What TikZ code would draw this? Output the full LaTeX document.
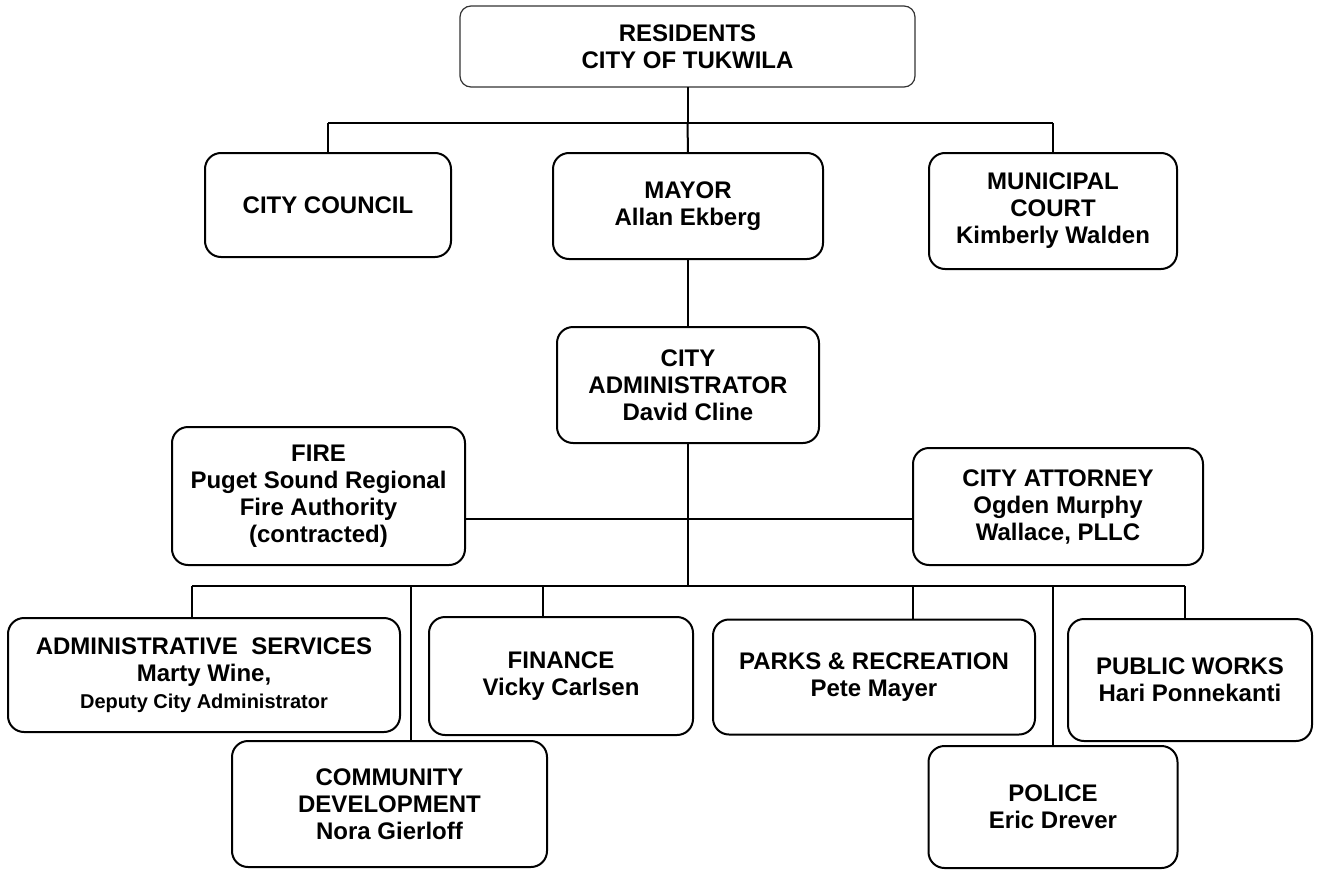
\documentclass[tikz,border=0pt]{standalone}
\usepackage{fontspec}
\setmainfont{Liberation Sans}
\begin{document}
\begin{tikzpicture}[x=1pt,y=-1pt,
  box/.style={draw=black, line width=2pt, rounded corners=16pt, inner sep=0pt, outer sep=0pt,
    align=center, font=\bfseries\fontsize{24}{27}\selectfont, text=black},
  topbox/.style={box, line width=1.2pt, draw=black!80, rounded corners=11pt},
  conn/.style={draw=black, line width=2pt}]
\useasboundingbox (0,0) rectangle (1320,878);
% nodes
\node[topbox, minimum width=455pt, minimum height=81pt] (res) at (687.5,46.5) {RESIDENTS\\CITY OF TUKWILA};
\node[box, minimum width=246pt, minimum height=104pt] (council) at (328,205) {CITY COUNCIL};
\node[box, minimum width=270pt, minimum height=106pt] (mayor) at (688,206) {MAYOR\\Allan Ekberg};
\node[box, minimum width=248pt, minimum height=116pt] (court) at (1053,211) {MUNICIPAL\\COURT\\Kimberly Walden};
\node[box, minimum width=262pt, minimum height=116pt] (admin) at (688,385) {CITY\\ADMINISTRATOR\\David Cline};
\node[box, minimum width=293pt, minimum height=138pt] (fire) at (318.5,496) {FIRE\\Puget Sound Regional\\Fire Authority\\(contracted)};
\node[box, minimum width=290pt, minimum height=117pt] (atty) at (1058,506.5) {CITY ATTORNEY\\Ogden Murphy\\Wallace, PLLC};
\node[box, minimum width=392pt, minimum height=114pt] (adms) at (204,675) {ADMINISTRATIVE\ \ SERVICES\\Marty Wine,\\{\fontsize{20}{23}\selectfont Deputy City Administrator}};
\node[box, minimum width=264pt, minimum height=118pt] (fin) at (561,676) {FINANCE\\Vicky Carlsen};
\node[box, minimum width=322pt, minimum height=115pt] (parks) at (874,677) {PARKS \& RECREATION\\Pete Mayer};
\node[box, minimum width=244pt, minimum height=122pt] (pw) at (1190,680) {PUBLIC WORKS\\Hari Ponnekanti};
\node[box, minimum width=315pt, minimum height=126pt] (cd) at (389.5,804) {COMMUNITY\\DEVELOPMENT\\Nora Gierloff};
\node[box, minimum width=249pt, minimum height=122pt] (police) at (1053,807) {POLICE\\Eric Drever};
% bus coordinates
\coordinate (t0) at (687.5,123);
\coordinate (tl) at (328,123);
\coordinate (tr) at (1053,123);
\coordinate (b0) at (688,586);
\coordinate (bl) at (192,586);
\coordinate (br) at (1185,586);
\coordinate (bcd) at (411,586);
\coordinate (bfin) at (543,586);
\coordinate (bparks) at (913,586);
\coordinate (bpol) at (1053,586);
% connectors
\draw[conn] (res.south) -- (t0);
\draw[conn] (tl) -- (tr);
\draw[conn] (tl) -- (council.north);
\draw[conn] (t0) -- (mayor.north);
\draw[conn] (tr) -- (court.north);
\draw[conn] (mayor.south) -- (admin.north);
\draw[conn] (admin.south) -- (b0);
\draw[conn] (fire.east |- 0,519) -- (atty.west |- 0,519);
\draw[conn] (bl) -- (br);
\draw[conn] (bl) -- (adms.north -| bl);
\draw[conn] (bcd) -- (cd.north -| bcd);
\draw[conn] (bfin) -- (fin.north -| bfin);
\draw[conn] (bparks) -- (parks.north -| bparks);
\draw[conn] (bpol) -- (police.north);
\draw[conn] (br) -- (pw.north -| br);
\end{tikzpicture}
\end{document}
